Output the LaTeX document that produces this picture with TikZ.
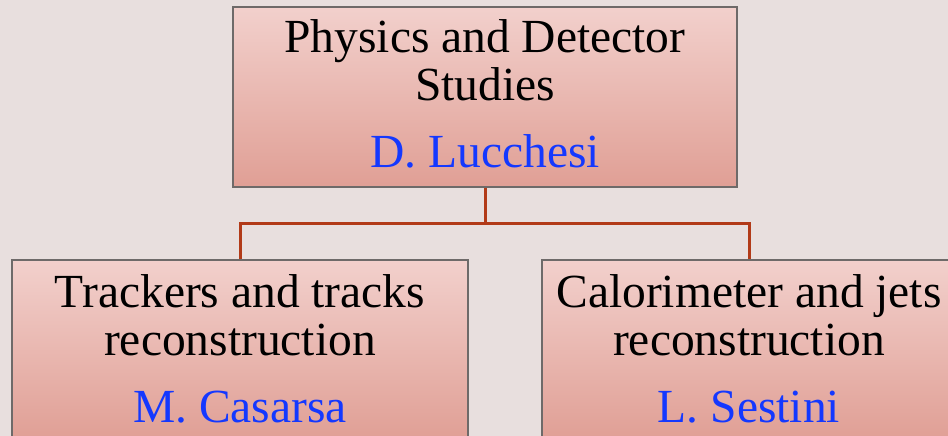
\documentclass[tikz,border=0pt]{standalone}
\usepackage{fontspec}
\setmainfont{Liberation Serif}
\definecolor{bgc}{HTML}{E8DFDE}
\definecolor{boxtop}{HTML}{F2D0CC}
\definecolor{boxbot}{HTML}{E09F95}
\definecolor{edgec}{HTML}{6E6A69}
\definecolor{linkc}{HTML}{B23A18}
\definecolor{namec}{HTML}{1438FF}
\begin{document}
\begin{tikzpicture}[x=1pt,y=-1pt,
  orgbox/.style={draw=edgec, line width=1.1pt, top color=boxtop, bottom color=boxbot, inner sep=0pt},
  txt/.style={anchor=base, inner sep=0pt, font=\fontsize{47.5}{47.5}\selectfont},
  nametxt/.style={txt, text=namec},
  link/.style={draw=linkc, line width=3pt}]
\useasboundingbox (0,0) rectangle (948,436);
\clip (0,0) rectangle (948,436);
\fill[bgc] (0,0) rectangle (948,436);
% boxes
\node[orgbox, minimum width=504pt, minimum height=180pt] (top) at (485,97) {};
\node[orgbox, minimum width=456pt, minimum height=180pt] (left) at (240,350) {};
\node[orgbox, minimum width=414pt, minimum height=180pt] (right) at (749,350) {};
% connectors
\coordinate (j) at (485,223);
\draw[link] (top.south) -- (j);
\draw[link] (left.north) |- (j) -| (right.north);
% texts
\node[txt] (t1) at (485,53) {Physics and Detector};
\node[txt] (t2) at (485,100) {Studies};
\node[nametxt] (t3) at (485,167) {D. Lucchesi};
\node[txt] (l1) at (240,307) {Trackers and tracks};
\node[txt] (l2) at (240,355) {reconstruction};
\node[nametxt] (l3) at (240,422) {M. Casarsa};
\node[txt] (r1) at (749,307) {Calorimeter and jets};
\node[txt] (r2) at (749,355) {reconstruction};
\node[nametxt] (r3) at (749,422) {L. Sestini};
\end{tikzpicture}
\end{document}
